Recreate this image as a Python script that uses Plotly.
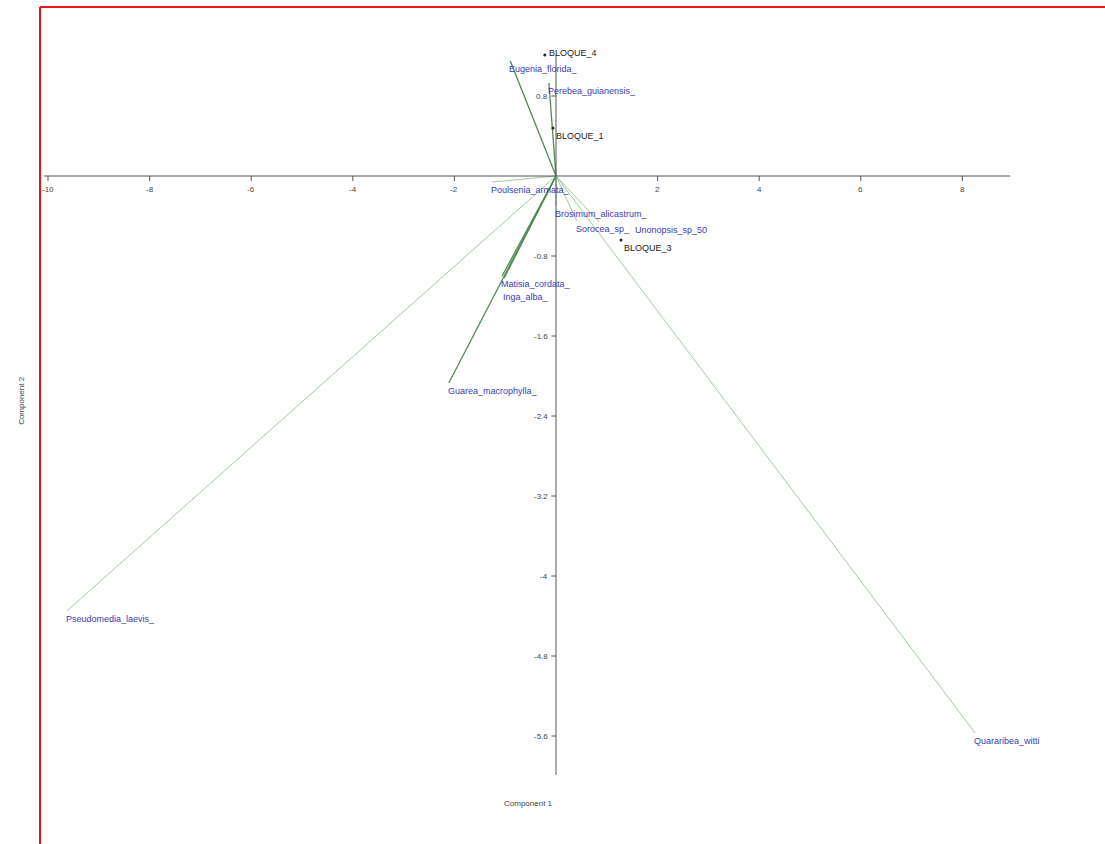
import plotly.graph_objects as go

# Species loadings (Component 1, Component 2)
species = ["Pseudomedia_laevis_", "Quararibea_witti", "Guarea_macrophylla_",
           "Matisia_cordata_", "Inga_alba_", "Eugenia_florida_", "Perebea_guianensis_",
           "Poulsenia_armata_", "Brosimum_alicastrum_", "Sorocea_sp_", "Unonopsis_sp_50"]
sp_x = [-9.63, 8.25, -2.11, -1.06, -1.02, -0.9, -0.14, -1.26, 0.0, 0.41, 0.85]
sp_y = [-4.35, -5.57, -2.07, -1.00, -1.02, 1.15, 0.93, -0.06, -0.30, -0.45, -0.46]
sp_faint = [True, True, False, False, False, False, False, True, True, True, True]

# Sample scores
blocks = ["BLOQUE_4", "BLOQUE_1", "BLOQUE_3"]
bl_x = [-0.22, -0.06, 1.28]
bl_y = [1.21, 0.48, -0.64]

x_ticks = [-10, -8, -6, -4, -2, 2, 4, 6, 8]
y_ticks = [0.8, -0.8, -1.6, -2.4, -3.2, -4, -4.8, -5.6]
y_tick_text = ["0.8", "-0.8", "-1.6", "-2.4", "-3.2", "-4", "-4.8", "-5.6"]

X_RANGE = [-10.945, 10.807]
Y_RANGE = [-6.68, 1.76]
X_AXIS_SPAN = [-10.08, 8.94]
Y_AXIS_SPAN = [-5.99, 1.21]

# label nudges (pixels) for crowded points so names stay readable
LABEL_SHIFT = {"Inga_alba_": (-3, -12), "Unonopsis_sp_50": (34, -1)}
BLOCK_SHIFT = {"BLOQUE_4": (2, 9)}

fig = go.Figure()

# loading vectors from origin
for x, y, faint in zip(sp_x, sp_y, sp_faint):
    fig.add_trace(go.Scatter(x=[0, x], y=[0, y], mode="lines",
                             line=dict(color="#9fcb9f" if faint else "#4f8a4f",
                                       width=1 if faint else 1.3),
                             hoverinfo="skip", showlegend=False))

# axes crossing at origin
fig.add_trace(go.Scatter(x=X_AXIS_SPAN, y=[0, 0], mode="lines",
                         line=dict(color="#555555", width=1), hoverinfo="skip", showlegend=False))
fig.add_trace(go.Scatter(x=[0, 0], y=Y_AXIS_SPAN, mode="lines",
                         line=dict(color="#555555", width=1), hoverinfo="skip", showlegend=False))

tick_font = dict(family="Liberation Sans, Arial", size=8, color="#444444")
for t in x_ticks:
    fig.add_shape(type="line", x0=t, x1=t, y0=0, y1=-0.05, line=dict(color="#555555", width=1))
    fig.add_annotation(x=t, y=-0.07, text=str(t), showarrow=False, xanchor="center",
                       yanchor="top", font=tick_font)
for t, s in zip(y_ticks, y_tick_text):
    fig.add_shape(type="line", x0=0, x1=-0.09, y0=t, y1=t, line=dict(color="#555555", width=1))
    fig.add_annotation(x=-0.12, y=t, text=s, showarrow=False, xanchor="right",
                       yanchor="middle", font=tick_font)

label_font = dict(family="Liberation Sans, Arial", size=9, color="#3a3ab8")
for name, x, y in zip(species, sp_x, sp_y):
    dx, dy = LABEL_SHIFT.get(name, (-3, -1))
    fig.add_annotation(x=x, y=y, text=name, showarrow=False, xanchor="left",
                       yanchor="top", xshift=dx, yshift=dy, font=label_font)

fig.add_trace(go.Scatter(x=bl_x, y=bl_y, mode="markers",
                         marker=dict(color="#222222", size=3), hoverinfo="skip", showlegend=False))
for name, x, y in zip(blocks, bl_x, bl_y):
    dx, dy = BLOCK_SHIFT.get(name, (1, -1))
    fig.add_annotation(x=x, y=y, text=name, showarrow=False, xanchor="left",
                       yanchor="top", xshift=dx, yshift=dy,
                       font=dict(family="Liberation Sans, Arial", size=9, color="#222222"))

# axis titles
fig.add_annotation(x=-0.55, y=-6.27, text="Component 1", showarrow=False,
                   font=dict(family="Liberation Sans, Arial", size=8, color="#444444"))
fig.add_annotation(xref="paper", x=0.013, y=-2.24, text="Component 2", showarrow=False,
                   textangle=-90, font=dict(family="Liberation Sans, Arial", size=8, color="#444444"))

# red frame
fig.add_shape(type="line", xref="paper", yref="paper", x0=40 / 1105, x1=1.0,
              y0=1 - 7 / 844, y1=1 - 7 / 844, line=dict(color="#ee1111", width=2))
fig.add_shape(type="line", xref="paper", yref="paper", x0=40 / 1105, x1=40 / 1105,
              y0=1 - 7 / 844, y1=0, line=dict(color="#ee1111", width=2))

fig.update_layout(width=1105, height=844, margin=dict(l=0, r=0, t=0, b=0),
                  paper_bgcolor="white", plot_bgcolor="white",
                  xaxis=dict(range=X_RANGE, visible=False, fixedrange=True),
                  yaxis=dict(range=Y_RANGE, visible=False, fixedrange=True))

fig.write_html("out.html")
